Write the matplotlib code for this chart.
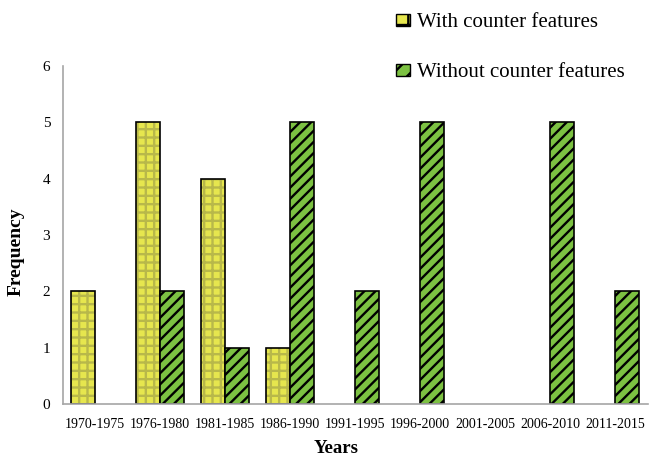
import matplotlib.pyplot as plt
import numpy as np
from matplotlib.patches import Patch

# --- DONNEES ---
periodes = ["1970-1975", "1976-1980", "1981-1985", "1986-1990", "1991-1995",
            "1996-2000", "2001-2005", "2006-2010", "2011-2015"]
avec_contre = [2, 5, 4, 1, 0, 0, 0, 0, 0]
sans_contre = [0, 2, 1, 5, 2, 5, 0, 5, 2]

plt.rcParams['font.family'] = ['Liberation Serif', 'DejaVu Serif']
plt.rcParams['hatch.linewidth'] = 1.7

fig = plt.figure(figsize=(6.61, 4.67), dpi=100)
ax = fig.add_axes([0.095, 0.135, 0.885, 0.724])

x = np.arange(len(periodes))
w = 0.37
# pas de barre pour les zeros
h_avec = np.where(np.array(avec_contre) == 0, np.nan, avec_contre)
h_sans = np.where(np.array(sans_contre) == 0, np.nan, sans_contre)

# barres jaunes : quadrillage fin puis contour noir
ax.bar(x - w / 2, h_avec, w, color='#e6e64e', edgecolor='#b8b84a',
       hatch='++', linewidth=0)
ax.bar(x - w / 2, h_avec, w, color='none', edgecolor='black', linewidth=1.2)
# barres vertes hachurées
ax.bar(x + w / 2, h_sans, w, color='#7cc142', edgecolor='black',
       hatch='///', linewidth=1.2)

ax.set_xlim(-0.5, len(periodes) - 0.5)
ax.set_ylim(0, 6)
ax.set_xticks(x)
ax.set_xticklabels(periodes, fontsize=10)
ax.set_yticks(range(7))
ax.tick_params(axis='y', labelsize=11, length=0, pad=9)
ax.tick_params(axis='x', length=0, pad=10)
for s in ['top', 'right']:
    ax.spines[s].set_visible(False)
for s in ['left', 'bottom']:
    ax.spines[s].set_color('#a6a6a6')
    ax.spines[s].set_linewidth(1.2)

ax.set_xlabel("Years", fontsize=13.5, fontweight='bold')
ax.set_ylabel("Frequency", fontsize=14, fontweight='bold')
ax.xaxis.set_label_coords(0.467, -0.108)
ax.yaxis.set_label_coords(-0.066, 0.45)

# legende
h1 = Patch(facecolor='#e6e64e', edgecolor='black', hatch='+', linewidth=1)
h2 = Patch(facecolor='#7cc142', edgecolor='black', hatch='//', linewidth=1)
fig.legend([h1, h2], ["With counter features", "Without counter features"],
           loc='upper left', bbox_to_anchor=(0.583, 0.994), frameon=False,
           fontsize=15, handlelength=0.7, handleheight=0.55, handletextpad=0.3,
           labelspacing=1.5, borderpad=0)

fig.savefig("out.png", dpi=100)
